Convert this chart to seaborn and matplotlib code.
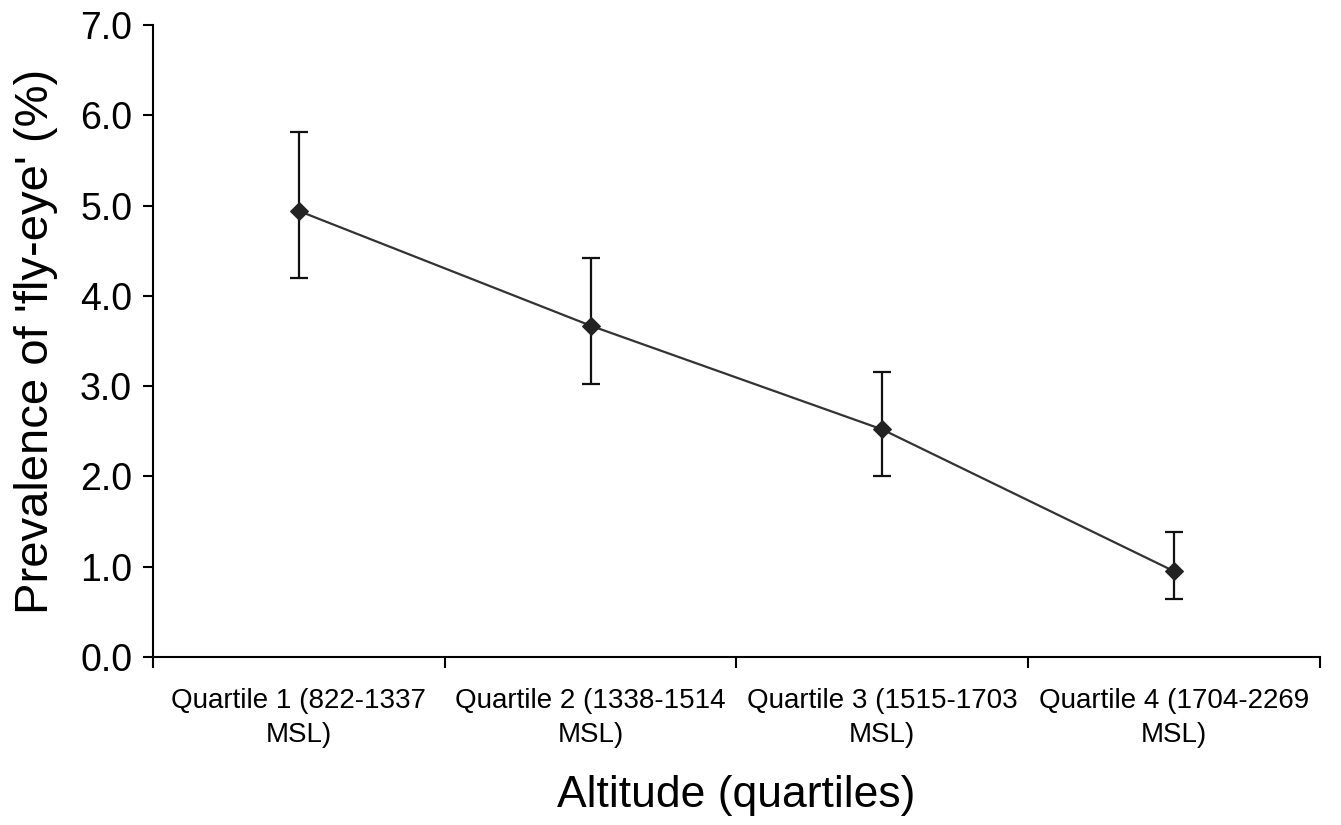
import numpy as np
import pandas as pd
import matplotlib
matplotlib.use("Agg")
import matplotlib.pyplot as plt
from matplotlib.ticker import FormatStrFormatter
import seaborn as sns

sns.set_theme(style="ticks")
plt.rcParams['font.family'] = ['Liberation Sans', 'DejaVu Sans']
plt.rcParams['text.color'] = 'black'
plt.rcParams['axes.labelcolor'] = 'black'
plt.rcParams['xtick.color'] = 'black'
plt.rcParams['ytick.color'] = 'black'

# data
quartiles = ["Quartile 1 (822-1337\nMSL)", "Quartile 2 (1338-1514\nMSL)",
             "Quartile 3 (1515-1703\nMSL)", "Quartile 4 (1704-2269\nMSL)"]
prevalence = [4.94, 3.67, 2.52, 0.95]
ci_low = [4.20, 3.02, 2.01, 0.64]
ci_high = [5.82, 4.42, 3.16, 1.38]

df = pd.DataFrame({"quartile": quartiles, "prev": prevalence,
                   "lo": ci_low, "hi": ci_high})
df["pos"] = np.arange(len(df))

fig = plt.figure(figsize=(13.41, 8.25), dpi=100)
ax = fig.add_axes([0.1141, 0.2036, 0.8702, 0.7661])

# error bars first, then line + diamond markers
ax.errorbar(df["pos"], df["prev"],
            yerr=[df["prev"] - df["lo"], df["hi"] - df["prev"]],
            fmt="none", ecolor="#111111", elinewidth=1.6, capsize=6.5, capthick=1.6, zorder=2)
sns.lineplot(data=df, x="pos", y="prev", ax=ax, color="#333333", linewidth=1.6,
             marker="D", markersize=9, markeredgecolor="#222222", markerfacecolor="#222222", zorder=3)

ax.set_xlim(-0.5, len(df) - 0.5)
ax.set_ylim(0, 7)
ax.set_yticks(np.arange(0, 8, 1))
ax.yaxis.set_major_formatter(FormatStrFormatter("%.1f"))

# excel style: tick marks between categories, labels at centers
ax.set_xticks(np.arange(-0.5, len(df), 1))
ax.set_xticklabels([])
ax.set_xticks(df["pos"], minor=True)
ax.set_xticklabels(df["quartile"], minor=True, fontsize=20, linespacing=1.4)
ax.tick_params(axis="x", which="minor", length=0, pad=22)
ax.tick_params(axis="x", which="major", length=8, width=1.5, color="black", direction="out")
ax.tick_params(axis="y", length=7, width=1.5, color="black", labelsize=27, pad=8)

for sp in ["top", "right"]:
    ax.spines[sp].set_visible(False)
for sp in ["left", "bottom"]:
    ax.spines[sp].set_linewidth(1.5)
    ax.spines[sp].set_color("black")

ax.set_xlabel("Altitude (quartiles)", fontsize=32, labelpad=20)
ax.set_ylabel("Prevalence of 'fly-eye' (%)", fontsize=34, labelpad=16)

fig.savefig("out.png", dpi=100)
